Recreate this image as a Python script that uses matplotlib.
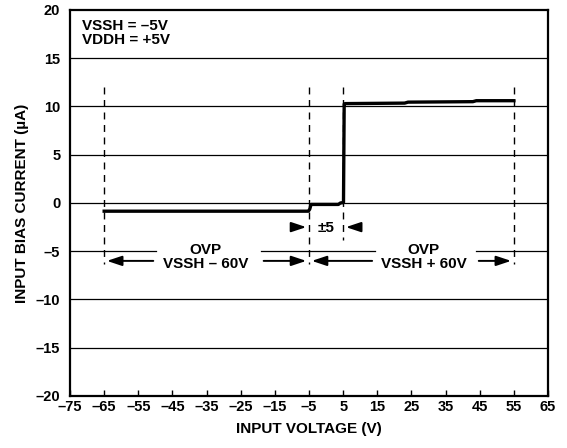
import matplotlib
matplotlib.use('Agg')
import matplotlib.pyplot as plt

plt.rcParams['font.family'] = ['Liberation Sans', 'DejaVu Sans']
plt.rcParams['font.weight'] = 'bold'

# measured curve (input voltage V, bias current uA)
volts = [-65, -5.2, -4.8, -4.4, 3.6, 4.2, 5.1, 5.3, 5.6, 23, 24, 43, 44, 55]
bias = [-0.85, -0.85, -0.65, -0.15, -0.15, 0.0, 0.05, 10.25, 10.3, 10.35, 10.45, 10.5, 10.6, 10.6]

xticks = list(range(-75, 66, 10))
yticks = list(range(-20, 21, 5))
marker_volts = [-65, -5, 5, 55]

def dash(v):
    return str(v).replace('-', '\u2013')

fig = plt.figure(figsize=(5.67, 4.48), dpi=100)
ax = fig.add_axes([0.1235, 0.1161, 0.843, 0.8616])

# gridlines (the -5 line is broken where the OVP labels sit)
for yv in yticks[1:-1]:
    if yv == -5:
        for a, b in [(-75, -49.8), (-19.1, 14.3), (43.9, 65)]:
            ax.plot([a, b], [yv, yv], color='black', lw=0.9, zorder=1)
    else:
        ax.axhline(yv, color='black', lw=0.9, zorder=1)

ax.plot(volts, bias, color='black', lw=2.4, zorder=3, solid_joinstyle='round')

# dashed boundary lines
for xv in marker_volts:
    bottom = -3.8 if xv == 5 else -6.3
    ax.plot([xv, xv], [12, bottom], color='black', lw=1, ls=(0, (5, 4)), zorder=2)

arrow = dict(arrowstyle='-|>,head_length=0.9,head_width=0.3', color='black', lw=1.4)

# +-5 window arrows
ax.annotate('', xy=(-5, -2.5), xytext=(-11, -2.5), arrowprops=arrow)
ax.annotate('', xy=(5, -2.5), xytext=(11, -2.5), arrowprops=arrow)
ax.text(0, -2.6, '\u00b15', ha='center', va='center', fontsize=11, fontweight='bold')

# OVP ranges
ax.annotate('', xy=(-65, -6), xytext=(-49.8, -6), arrowprops=arrow)
ax.annotate('', xy=(-5, -6), xytext=(-19.1, -6), arrowprops=arrow)
ax.text(-35.2, -5.6, 'OVP\nVSSH \u2013 60V', ha='center', va='center', fontsize=11,
        fontweight='bold', linespacing=1.0)
ax.annotate('', xy=(-5, -6), xytext=(14.3, -6), arrowprops=arrow)
ax.annotate('', xy=(55, -6), xytext=(43.9, -6), arrowprops=arrow)
ax.text(28.5, -5.6, 'OVP\nVSSH + 60V', ha='center', va='center', fontsize=11,
        fontweight='bold', linespacing=1.0)

ax.text(-71.5, 19.1, 'VSSH = \u20135V\nVDDH = +5V', ha='left', va='top', fontsize=11,
        fontweight='bold', linespacing=1.0)

ax.set_xlim(-75, 65)
ax.set_ylim(-20, 20)
ax.set_xticks(xticks)
ax.set_xticklabels([dash(v) for v in xticks], fontsize=10.5, fontweight='bold')
ax.set_yticks(yticks)
ax.set_yticklabels([dash(v) for v in yticks], fontsize=10.5, fontweight='bold')
ax.tick_params(axis='x', direction='in', length=4, width=1, pad=3)
ax.tick_params(axis='y', length=0, pad=7)
for s in ax.spines.values():
    s.set_linewidth(1.6)

ax.set_xlabel('INPUT VOLTAGE (V)', fontsize=11, fontweight='bold', labelpad=6)
ax.set_ylabel('INPUT BIAS CURRENT (\u00b5A)', fontsize=11, fontweight='bold', labelpad=5)

fig.savefig('out.png', dpi=100)
